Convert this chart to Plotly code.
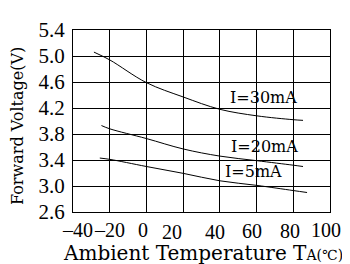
import plotly.graph_objects as go

# Data
temp_30 = [-28.6, -20, 0, 20, 40, 60, 80, 85.3]
vf_30 = [5.06, 4.94, 4.59, 4.37, 4.18, 4.08, 4.02, 4.01]
temp_20 = [-24.5, -20, 0, 20, 40, 60, 80, 85.3]
vf_20 = [3.93, 3.88, 3.73, 3.57, 3.46, 3.39, 3.32, 3.30]
temp_5 = [-25.4, -20, 0, 20, 40, 60, 80, 87.5]
vf_5 = [3.43, 3.41, 3.30, 3.195, 3.08, 3.01, 2.93, 2.90]

x_ticks = [-40, -20, 0, 20, 40, 60, 80, 100]
y_ticks = [2.6, 3.0, 3.4, 3.8, 4.2, 4.6, 5.0, 5.4]
series_labels = ["I=30mA", "I=20mA", "I=5mA"]

TXT = "DejaVu Serif, Noto Sans CJK SC, serif"
NUM = "Liberation Serif, DejaVu Serif, serif"

fig = go.Figure()
for xs, ys in [(temp_30, vf_30), (temp_20, vf_20), (temp_5, vf_5)]:
    fig.add_trace(go.Scatter(x=xs, y=ys, mode="lines", line=dict(color="black", width=1, shape="spline"),
                             showlegend=False, hoverinfo="skip"))

# x tick labels as annotations (matching the offsets in the reference)
x_shift = [4, 0, -3, -11, -5, -5, -3, -4]
y_shift = [-18, -18, -18, -20, -20, -19, -19, -18]
for v, dx, dy in zip(x_ticks, x_shift, y_shift):
    fig.add_annotation(x=v, y=0, xref="x", yref="paper", text=("\u2013" + str(-v)) if v < 0 else str(v),
                       showarrow=False, xanchor="center", yanchor="middle", xshift=dx, yshift=dy,
                       font=dict(family=NUM, size=20, color="black"))

# series labels
lab_pos = [(64, 4.36), (64.5, 3.61), (58.5, 3.22)]
for (lx, ly), t in zip(lab_pos, series_labels):
    fig.add_annotation(x=lx, y=ly, xref="x", yref="y", text=t, showarrow=False,
                       xanchor="center", yanchor="middle",
                       font=dict(family=TXT, size=16, color="black"))

# axis titles
fig.add_annotation(x=0.5, y=0, xref="paper", yref="paper",
                   text='Ambient Temperature T<span style="font-size:14px">A(\u2103)</span>',
                   showarrow=False, xanchor="center", yanchor="middle", yshift=-41, xshift=1,
                   font=dict(family=TXT, size=20, color="black"))
fig.add_annotation(x=0, y=0.5, xref="paper", yref="paper", text="Forward Voltage(V)", textangle=-90,
                   showarrow=False, xanchor="center", yanchor="middle", xshift=-56, yshift=-5,
                   font=dict(family=TXT, size=16, color="black"))

fig.update_xaxes(range=[-40, 100], tickvals=x_ticks, showticklabels=False, showgrid=True,
                 gridcolor="black", gridwidth=1, showline=True, linecolor="black", linewidth=1,
                 mirror=True, zeroline=False, fixedrange=True)
fig.update_yaxes(range=[2.6, 5.4], tickvals=y_ticks, ticktext=[f"{v:.1f}" for v in y_ticks],
                 showgrid=True, gridcolor="black", gridwidth=1, showline=True, linecolor="black",
                 linewidth=1, mirror=True, zeroline=False, ticks="", ticklabelstandoff=3,
                 ticklabeloverflow="allow",
                 tickfont=dict(family=NUM, size=21, color="black"), fixedrange=True)

# page body has an 8px margin, so the figure is drawn 8px smaller in each direction
fig.update_layout(width=342, height=256, margin=dict(l=65, r=20, t=10, b=52),
                  paper_bgcolor="white", plot_bgcolor="white", showlegend=False)

fig.write_html("out.html")
